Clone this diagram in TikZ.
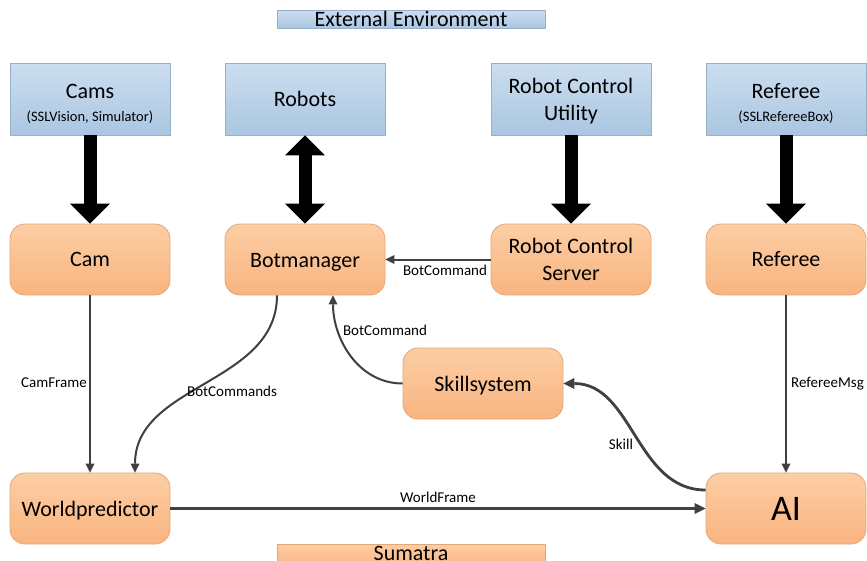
\documentclass[tikz,border=0pt]{standalone}
\usepackage{fontspec}
\setmainfont{Carlito}
\usetikzlibrary{arrows.meta}
\definecolor{blueTop}{RGB}{204,222,240}
\definecolor{blueBot}{RGB}{170,198,225}
\definecolor{blueBorder}{RGB}{150,175,202}
\definecolor{orangeTop}{RGB}{252,206,164}
\definecolor{orangeBot}{RGB}{249,180,128}
\definecolor{orangeBorder}{RGB}{228,168,120}
\definecolor{edgeGrey}{RGB}{64,64,64}
\tikzset{
  bluebox/.style={rectangle, draw=blueBorder, line width=0.8pt, top color=blueTop, bottom color=blueBot,
    minimum width=160pt, minimum height=72pt, inner sep=0pt, align=center,
    font=\fontsize{22}{27}\selectfont},
  orangebox/.style={rectangle, rounded corners=15pt, draw=orangeBorder, line width=0.8pt,
    top color=orangeTop, bottom color=orangeBot,
    minimum width=160pt, minimum height=71pt, inner sep=0pt, align=center,
    font=\fontsize{22}{27}\selectfont},
  bannerblue/.style={rectangle, draw=blueBorder, line width=0.8pt, top color=blueTop, bottom color=blueBot,
    minimum width=268pt, minimum height=18pt, inner sep=0pt, font=\fontsize{22}{22}\selectfont},
  bannerorange/.style={rectangle, draw=orangeBorder, line width=0.8pt, top color=orangeTop, bottom color=orangeBot,
    minimum width=268pt, minimum height=24pt, inner sep=0pt},
  bigarrow/.style={line width=13pt, black, -{Triangle[length=20pt,width=40pt,line width=0pt]}},
  bigdouble/.style={line width=13pt, black, {Triangle[length=20pt,width=40pt,line width=0pt]}-{Triangle[length=20pt,width=40pt,line width=0pt]}},
  flow/.style={line width=2pt, draw=edgeGrey, -{Triangle[length=9pt,width=9pt,line width=0pt]}},
  flowthick/.style={line width=2.8pt, draw=edgeGrey, -{Triangle[length=11pt,width=11pt,line width=0pt]}},
  lbl/.style={inner sep=0pt, font=\fontsize{15}{15}\selectfont, text=black}
}
\begin{document}
\begin{tikzpicture}[x=1pt,y=-1pt]
\clip (0,0) rectangle (867,560);
\fill[white] (0,0) rectangle (867,560);

% banners
\node[bannerblue] (ext) at (411,19) {\raisebox{-1pt}{External Environment}};
\node[bannerorange] (sum) at (411,556) {};
\node[inner sep=0pt, font=\fontsize{22}{22}\selectfont, anchor=base] (sumtxt) at (411,560) {Sumatra};

% external boxes
\node[bluebox] (cams) at (90,99) {\rule{0pt}{24pt}Cams\\[-4pt]{\fontsize{14.5}{17}\selectfont (SSLVision, Simulator)}};
\node[bluebox] (robots) at (305,99) {Robots};
\node[bluebox] (rcu) at (571,99) {\rule{0pt}{20pt}Robot Control\\Utility};
\node[bluebox] (reftop) at (786,99) {\rule{0pt}{24pt}Referee\\[-4pt]{\fontsize{14.5}{17}\selectfont (SSLRefereeBox)}};

% sumatra modules
\node[orangebox] (cam) at (90,259.5) {Cam};
\node[orangebox] (botm) at (305,259.5) {\rule{0pt}{19pt}Botmanager};
\node[orangebox] (rcs) at (571,259.5) {Robot Control\\Server};
\node[orangebox] (ref) at (786,259.5) {Referee};
\node[orangebox] (skill) at (483,383.5) {\rule{0pt}{19pt}Skillsystem};
\node[orangebox] (world) at (90,508.5) {\rule{0pt}{19pt}Worldpredictor};
\node[orangebox, font=\fontsize{36}{36}\selectfont] (ai) at (786,508.5) {AI};

% thick arrows
\draw[bigarrow] (cams.south) -- (cam.north);
\draw[bigdouble] (robots.south) -- (botm.north);
\draw[bigarrow] (rcu.south) -- (rcs.north);
\draw[bigarrow] (reftop.south) -- (ref.north);

% thin connectors
\draw[flow] (rcs.west) -- (botm.east);
\node[lbl] (l1) at (445,270) {BotCommand};

\draw[flow] (cam.south) -- (world.north);
\node[lbl, anchor=east] (l2) at (87,383) {CamFrame};

\draw[flow] ([xshift=-28pt]botm.south) to[out=-90,in=90] ([xshift=45pt]world.north);
\node[lbl] (l3) at (232,391) {BotCommands};

\draw[flow] (skill.west) to[out=180,in=-90] ([xshift=28pt]botm.south);
\node[lbl] (l4) at (385,330) {BotCommand};

\draw[flowthick] ([yshift=18.5pt]ai.west) to[out=180,in=0] (skill.east);
\node[lbl] (l5) at (621,444) {Skill};

\draw[flow] (ref.south) -- (ai.north);
\node[lbl, anchor=west] (l6) at (791,384) {RefereeMsg};

\draw[flowthick] (world.east) -- (ai.west);
\node[lbl] (l7) at (438,497) {WorldFrame};
\end{tikzpicture}
\end{document}
